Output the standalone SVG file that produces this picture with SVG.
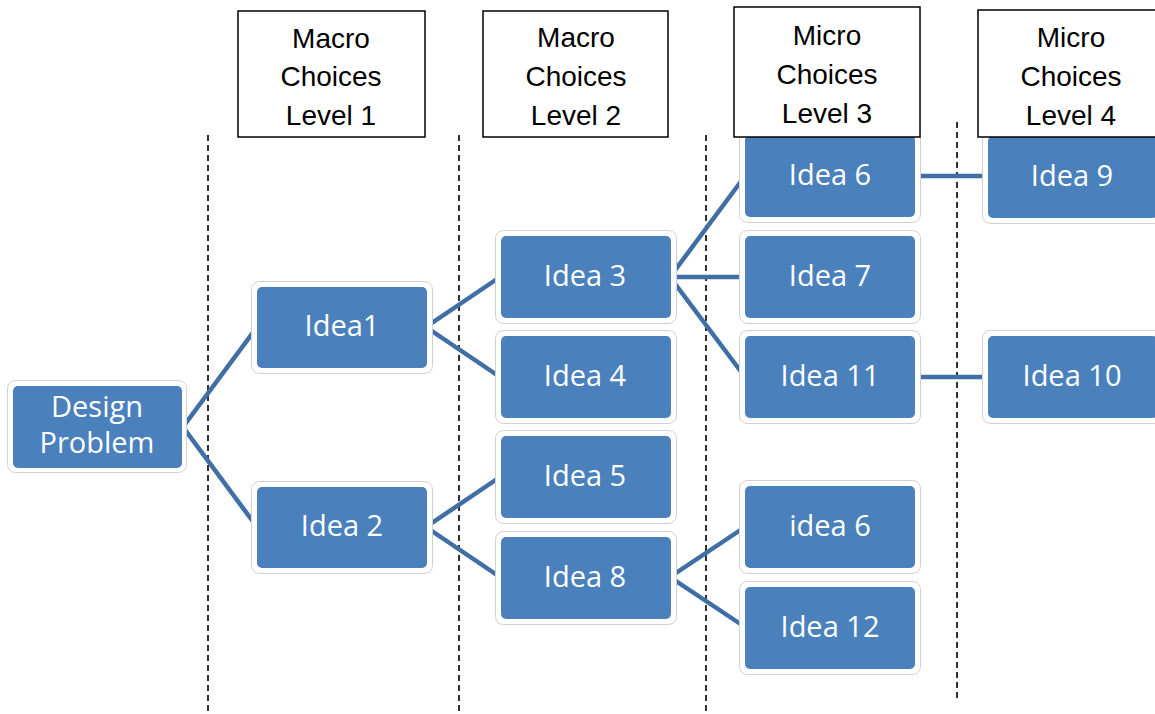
<svg xmlns="http://www.w3.org/2000/svg" width="1155" height="714" viewBox="0 0 1155 714">
<style>
.halo{fill:#fff;stroke:#d0d0d0;stroke-width:1}
.box{fill:#4A81BD}
.lbl{font-family:"Open Sans","Noto Sans",sans-serif;font-size:29px;fill:#fff;text-anchor:middle}
.hdr{fill:#fff;stroke:#000;stroke-width:1.5}
.htx{font-family:"Liberation Sans",Arial,sans-serif;font-size:28px;fill:#000;text-anchor:middle}
.dash{stroke:#000;stroke-width:1.6;stroke-dasharray:6,4;fill:none}
.con{stroke:#3F6FA4;stroke-width:4.5;fill:none}
</style>
<rect width="1155" height="714" fill="#fff"/>
<g id="dividers">
<line class="dash" x1="208" y1="135" x2="208" y2="714"/>
<line class="dash" x1="459" y1="135" x2="459" y2="714"/>
<line class="dash" x1="706" y1="135" x2="706" y2="714"/>
<line class="dash" x1="957" y1="122" x2="957" y2="702"/>
</g>
<g id="connectors">
<polyline class="con" points="257,327 183,427 257,527"/>
<polyline class="con" points="500,277 426,327 500,377"/>
<polyline class="con" points="500,477 426,527 500,577"/>
<polyline class="con" points="745,176 670,277 745,377"/>
<line class="con" x1="670" y1="277" x2="745" y2="277"/>
<polyline class="con" points="745,527 670,577 745,627"/>
<line class="con" x1="915" y1="176" x2="988" y2="176"/>
<line class="con" x1="915" y1="377" x2="988" y2="377"/>
</g>
<g id="design-problem">
<rect class="halo" x="7.5" y="380.5" width="179" height="92" rx="8"/>
<rect class="box" x="13" y="386" width="169" height="82" rx="5"/>
<text class="lbl" x="97" y="417">Design</text>
<text class="lbl" x="97" y="453">Problem</text>
</g>
<g id="idea1">
<rect class="halo" x="251.5" y="281.5" width="181" height="92" rx="8"/>
<rect class="box" x="257" y="287" width="170" height="81" rx="5"/>
<text class="lbl" x="342" y="336">Idea1</text>
</g>
<g id="idea2">
<rect class="halo" x="251.5" y="481.5" width="181" height="92" rx="8"/>
<rect class="box" x="257" y="487" width="170" height="81" rx="5"/>
<text class="lbl" x="342" y="536">Idea 2</text>
</g>
<g id="idea3">
<rect class="halo" x="495.5" y="230.5" width="181" height="93" rx="8"/>
<rect class="box" x="501" y="236" width="170" height="82" rx="5"/>
<text class="lbl" x="585" y="286">Idea 3</text>
</g>
<g id="idea4">
<rect class="halo" x="495.5" y="330.5" width="181" height="93" rx="8"/>
<rect class="box" x="501" y="336" width="170" height="82" rx="5"/>
<text class="lbl" x="585" y="386">Idea 4</text>
</g>
<g id="idea5">
<rect class="halo" x="495.5" y="430.5" width="181" height="93" rx="8"/>
<rect class="box" x="501" y="436" width="170" height="82" rx="5"/>
<text class="lbl" x="585" y="486">Idea 5</text>
</g>
<g id="idea8">
<rect class="halo" x="495.5" y="531.5" width="181" height="93" rx="8"/>
<rect class="box" x="501" y="537" width="170" height="82" rx="5"/>
<text class="lbl" x="585" y="587">Idea 8</text>
</g>
<g id="idea6">
<rect class="halo" x="739.5" y="129.5" width="181" height="93" rx="8"/>
<rect class="box" x="745" y="135" width="170" height="82" rx="5"/>
<text class="lbl" x="830" y="185">Idea 6</text>
</g>
<g id="idea7">
<rect class="halo" x="739.5" y="230.5" width="181" height="93" rx="8"/>
<rect class="box" x="745" y="236" width="170" height="82" rx="5"/>
<text class="lbl" x="830" y="286">Idea 7</text>
</g>
<g id="idea11">
<rect class="halo" x="739.5" y="330.5" width="181" height="93" rx="8"/>
<rect class="box" x="745" y="336" width="170" height="82" rx="5"/>
<text class="lbl" x="830" y="386">Idea 11</text>
</g>
<g id="idea6b">
<rect class="halo" x="739.5" y="480.5" width="181" height="93" rx="8"/>
<rect class="box" x="745" y="486" width="170" height="82" rx="5"/>
<text class="lbl" x="830" y="536">idea 6</text>
</g>
<g id="idea12">
<rect class="halo" x="739.5" y="581.5" width="181" height="93" rx="8"/>
<rect class="box" x="745" y="587" width="170" height="82" rx="5"/>
<text class="lbl" x="830" y="637">Idea 12</text>
</g>
<g id="idea9">
<rect class="halo" x="982.5" y="130.5" width="181" height="93" rx="8"/>
<rect class="box" x="988" y="136" width="170" height="82" rx="5"/>
<text class="lbl" x="1072" y="186">Idea 9</text>
</g>
<g id="idea10">
<rect class="halo" x="982.5" y="330.5" width="181" height="93" rx="8"/>
<rect class="box" x="988" y="336" width="170" height="82" rx="5"/>
<text class="lbl" x="1072" y="386">Idea 10</text>
</g>
<g id="header1">
<rect class="hdr" x="238" y="11" width="187" height="126"/>
<text class="htx" x="331" y="48">Macro</text>
<text class="htx" x="331" y="86">Choices</text>
<text class="htx" x="331" y="125">Level 1</text>
</g>
<g id="header2">
<rect class="hdr" x="483" y="11" width="185" height="126"/>
<text class="htx" x="576" y="47">Macro</text>
<text class="htx" x="576" y="86">Choices</text>
<text class="htx" x="576" y="125">Level 2</text>
</g>
<g id="header3">
<rect class="hdr" x="734" y="7" width="186" height="130"/>
<text class="htx" x="827" y="45">Micro</text>
<text class="htx" x="827" y="84">Choices</text>
<text class="htx" x="827" y="123">Level 3</text>
</g>
<g id="header4">
<rect class="hdr" x="978" y="10" width="190" height="127"/>
<text class="htx" x="1071" y="47">Micro</text>
<text class="htx" x="1071" y="86">Choices</text>
<text class="htx" x="1071" y="125">Level 4</text>
</g>
</svg>
